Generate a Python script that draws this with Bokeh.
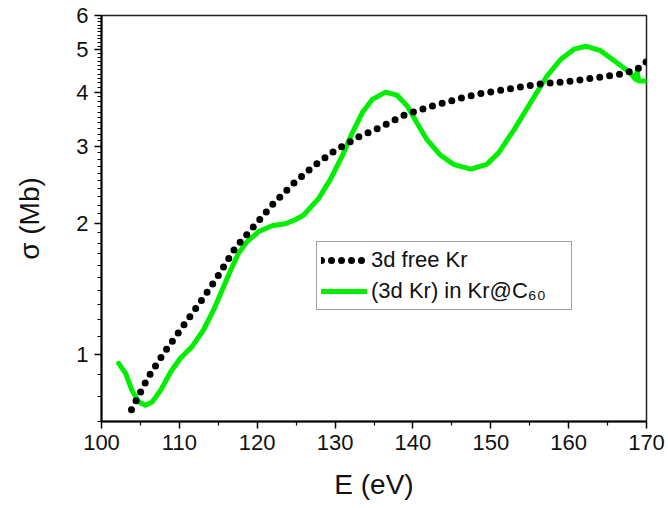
from bokeh.plotting import figure
from bokeh.models import FixedTicker, PrintfTickFormatter, Legend, LegendItem
from bokeh.embed import file_html
from bokeh.resources import INLINE

# ---- data ----
free_E = [103.85, 106.0, 108.0, 110.4, 112.7, 114.9, 117.2, 119.4, 122.1, 124.7,
          127.2, 129.8, 132.9, 135.8, 139.0, 142.3, 146.1, 148.3, 152.1, 156.0,
          159.8, 163.7, 167.0, 168.8, 169.65, 170.0]
free_sigma = [0.745, 0.885, 1.005, 1.154, 1.317, 1.505, 1.755, 1.95, 2.22, 2.47,
              2.70, 2.92, 3.15, 3.32, 3.55, 3.71, 3.87, 3.96, 4.06, 4.17,
              4.23, 4.32, 4.41, 4.51, 4.66, 4.70]

endo_E = [102.2, 103.1, 103.9, 104.8, 105.65, 106.5, 107.6, 108.9, 110.1, 111.6,
          113.1, 114.4, 115.5, 116.6, 117.6, 118.7, 120.2, 121.9, 123.6, 124.9,
          126.0, 127.9, 129.4, 130.9, 132.2, 133.5, 134.8, 136.5, 138.0, 139.3,
          140.5, 141.8, 143.5, 145.2, 147.4, 149.5, 151.0, 153.0, 155.1, 157.2,
          159.0, 160.7, 162.2, 164.1, 166.2, 167.9, 168.6, 168.8, 169.0, 169.9]
endo_sigma = [0.952, 0.903, 0.826, 0.776, 0.763, 0.776, 0.826, 0.911, 0.977, 1.039,
              1.136, 1.263, 1.404, 1.561, 1.706, 1.814, 1.913, 1.972, 1.993, 2.036,
              2.09, 2.28, 2.52, 2.85, 3.22, 3.59, 3.85, 4.00, 3.93, 3.71,
              3.40, 3.11, 2.87, 2.73, 2.66, 2.73, 2.90, 3.28, 3.78, 4.35,
              4.76, 5.02, 5.10, 4.98, 4.67, 4.43, 4.28, 4.47, 4.24, 4.24]

x_ticks = [100, 110, 120, 130, 140, 150, 160, 170]
x_minor = [105, 115, 125, 135, 145, 155, 165]
y_ticks = [1, 2, 3, 4, 5, 6]
y_minor = [round(0.7 + 0.1 * i, 1) for i in range(53) if round(0.7 + 0.1 * i, 1) not in y_ticks]

label_free = "3d free Kr"
label_endo = "(3d Kr) in Kr@C\u2086\u2080"

FONT = "Liberation Sans"

p = figure(frame_width=545, frame_height=406,
           min_border_left=101, min_border_right=22, min_border_top=15, min_border_bottom=87,
           x_range=(100, 170), y_range=(0.70, 6), y_axis_type="log",
           output_backend="svg", toolbar_location=None)
p.background_fill_color = "white"
p.border_fill_color = "white"
p.xgrid.visible = False
p.ygrid.visible = False
p.outline_line_color = "#222222"
p.outline_line_width = 1.5

r_endo = p.line(endo_E, endo_sigma, line_color="#00ee00", line_width=5,
                line_join="round", line_cap="round")
r_free = p.line(free_E, free_sigma, line_color="black", line_width=7,
                line_dash="0 10", line_cap="round")

p.xaxis.ticker = FixedTicker(ticks=x_ticks, minor_ticks=x_minor)
p.yaxis.ticker = FixedTicker(ticks=y_ticks, minor_ticks=y_minor)
p.yaxis.formatter = PrintfTickFormatter(format="%d")

for ax in (p.xaxis[0], p.yaxis[0]):
    ax.axis_line_color = "black"
    ax.axis_line_width = 2
    ax.major_tick_line_color = "black"
    ax.minor_tick_line_color = "black"
    ax.major_tick_line_width = 1.5
    ax.minor_tick_line_width = 1.2
    ax.major_tick_in = 0
    ax.major_tick_out = 7
    ax.minor_tick_in = 0
    ax.minor_tick_out = 4
    ax.major_label_text_font = FONT
    ax.major_label_text_font_size = "22px"
    ax.major_label_text_color = "#111111"
    ax.axis_label_text_font = FONT
    ax.axis_label_text_font_size = "28px"
    ax.axis_label_text_font_style = "normal"
    ax.axis_label_text_color = "#111111"

p.xaxis.axis_label = "E (eV)"
p.yaxis.axis_label = "\u03c3 (Mb)"
p.xaxis.major_label_standoff = 6
p.xaxis.axis_label_standoff = 16
p.yaxis.major_label_standoff = 6
p.yaxis.axis_label_standoff = 28

legend = Legend(items=[LegendItem(label=label_free, renderers=[r_free]),
                       LegendItem(label=label_endo, renderers=[r_endo])],
                location=(215, 111))
legend.border_line_color = "#444444"
legend.border_line_width = 1.2
legend.label_text_font = FONT
legend.label_text_font_size = "22px"
legend.label_text_color = "#111111"
legend.glyph_width = 46
legend.glyph_height = 28
legend.label_height = 28
legend.label_width = 196
legend.label_standoff = 4
legend.padding = 4
legend.spacing = 3
legend.margin = 0
legend.background_fill_alpha = 1.0
p.add_layout(legend)

open("out.html", "w").write(file_html(p, INLINE))
